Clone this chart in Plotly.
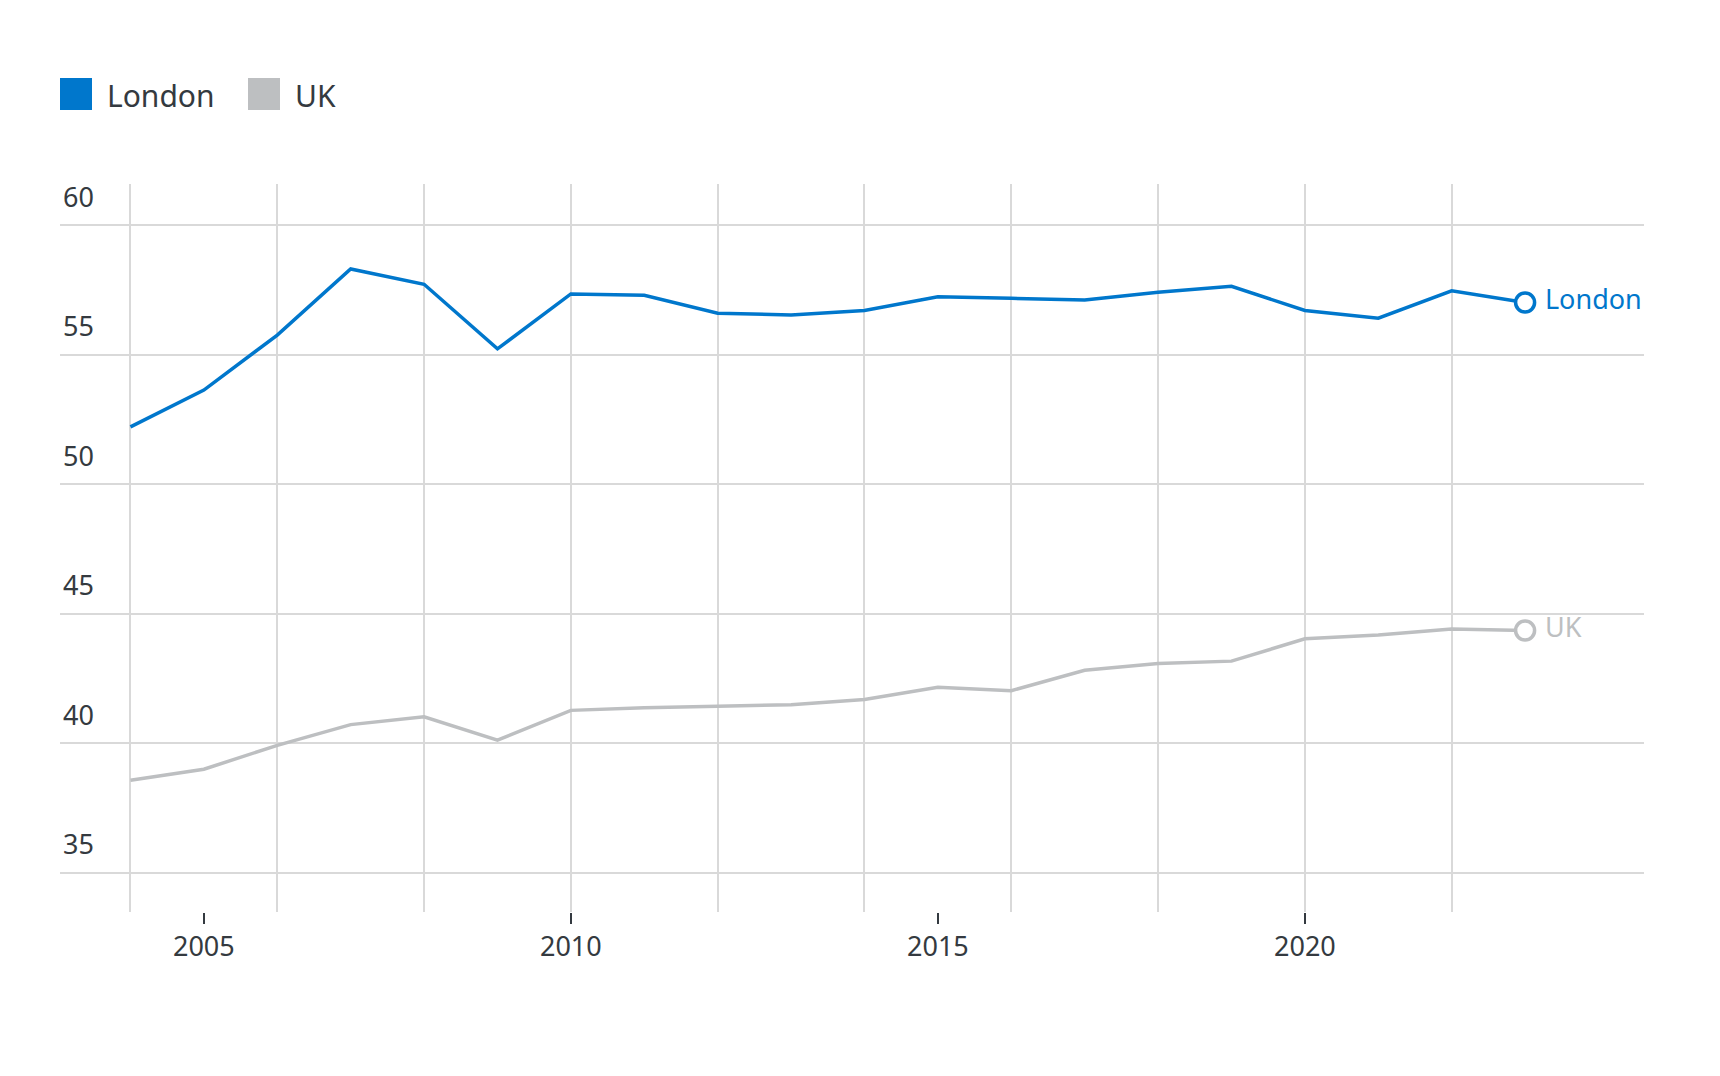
import plotly.graph_objects as go

years = list(range(2004, 2024))
london = [52.21, 53.63, 55.75, 58.30, 57.71, 55.22, 57.34, 57.29, 56.59, 56.53,
          56.70, 57.23, 57.17, 57.10, 57.40, 57.63, 56.70, 56.40, 57.46, 57.01]
uk = [38.57, 39.00, 39.92, 40.72, 41.02, 40.12, 41.27, 41.37, 41.43, 41.49,
      41.69, 42.16, 42.03, 42.82, 43.08, 43.17, 44.03, 44.18, 44.41, 44.35]

series_names = ["London", "UK"]
series_colors = ["#0077CC", "#BDBFC1"]
label_colors = ["#0077CC", "#BDBFC1"]

x_tick_vals = [2005, 2010, 2015, 2020]
x_grid_vals = list(range(2004, 2023, 2))
y_tick_vals = [35, 40, 45, 50, 55, 60]

FONT = "Noto Sans"
TEXT = "#343A40"

fig = go.Figure()
for name, vals, col, lcol in zip(series_names, [london, uk], series_colors, label_colors):
    fig.add_trace(go.Scatter(x=years, y=vals, mode="lines", name=name,
                             line=dict(color=col, width=3.5), showlegend=False,
                             hoverinfo="x+y"))
    fig.add_trace(go.Scatter(x=[years[-1]], y=[vals[-1]], mode="markers+text",
                             text=["\u00a0" + name], textposition="middle right",
                             textfont=dict(family=FONT, size=27, color=lcol),
                             marker=dict(symbol="circle", size=19, color="white",
                                         line=dict(color=col, width=3.5)),
                             showlegend=False, hoverinfo="skip", cliponaxis=False))

W, H = 1720, 1076
ml, mr, mt, mb = 60, 76, 184, 164
pw, ph = W - ml - mr, H - mt - mb

def px(x):
    return (x - ml) / pw

def py(y):
    return (H - mb - y) / ph

shapes = []
annotations = []
legend_items = [("London", series_colors[0], 60), ("UK", series_colors[1], 248)]
for name, col, x0 in legend_items:
    shapes.append(dict(type="rect", xref="paper", yref="paper",
                       x0=px(x0), x1=px(x0 + 32), y0=py(110), y1=py(78),
                       fillcolor=col, line=dict(width=0)))
    annotations.append(dict(xref="paper", yref="paper", x=px(x0 + 45), y=py(95),
                            xanchor="left", yanchor="middle", text=name, showarrow=False,
                            font=dict(family=FONT, size=30, color=TEXT)))

fig.update_layout(
    width=W, height=H,
    margin=dict(l=ml, r=mr, t=mt, b=mb),
    paper_bgcolor="white", plot_bgcolor="white",
    font=dict(family=FONT, color=TEXT, size=26),
    shapes=shapes, annotations=annotations,
    showlegend=False,
    xaxis=dict(range=[2003.04, 2024.62], tickvals=x_tick_vals, showgrid=False,
               ticks="outside", ticklen=11, tickwidth=1.5, tickcolor=TEXT,
               showline=False, zeroline=False,
               tickfont=dict(family=FONT, size=27, color=TEXT),
               minor=dict(tickvals=x_grid_vals, showgrid=True, gridcolor="#D9D9D9",
                          gridwidth=1.5, ticks="")),
    yaxis=dict(range=[33.49, 61.58], tickvals=y_tick_vals, showgrid=True,
               gridcolor="#D9D9D9", gridwidth=1.5, zeroline=False, showline=False,
               ticks="", ticklabelposition="inside top", ticklabelshift=-9,
               ticklabeloverflow="allow",
               tickfont=dict(family=FONT, size=27, color=TEXT)),
)

fig.write_html("out.html")
